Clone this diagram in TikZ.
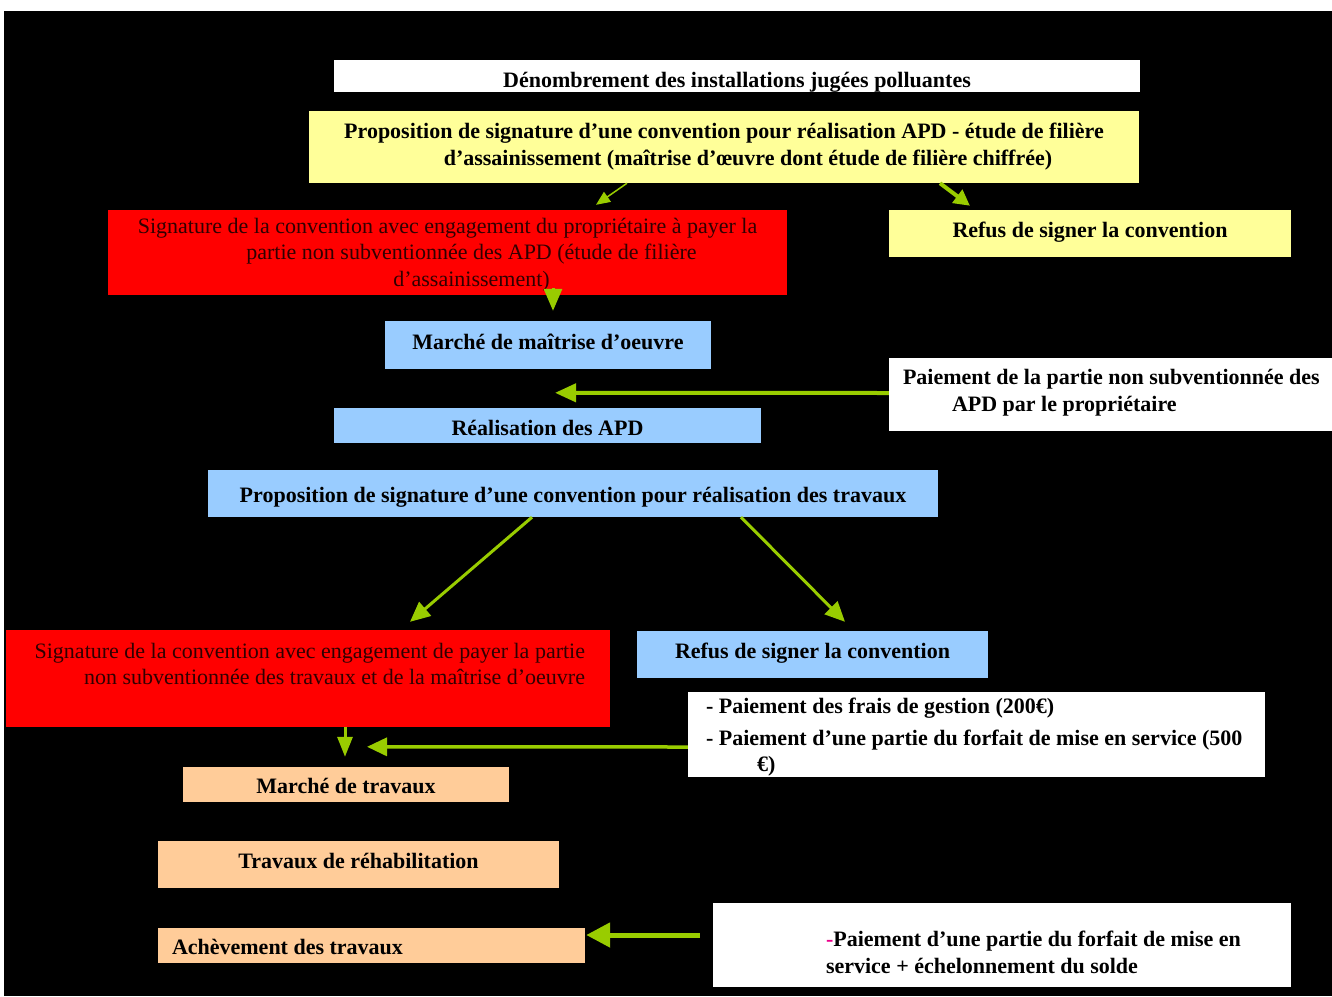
\documentclass[tikz,border=0pt]{standalone}
\usepackage{fontspec}
\setmainfont{Liberation Serif}
\usetikzlibrary{arrows.meta}
\definecolor{jaune}{HTML}{FFFF99}
\definecolor{rouge}{HTML}{FF0000}
\definecolor{bleu}{HTML}{99CCFF}
\definecolor{saumon}{HTML}{FFCC99}
\definecolor{vert}{HTML}{99CC00}
\definecolor{sombre}{HTML}{300000}
\tikzset{
  boite/.style n args={3}{minimum width=#1pt, minimum height=#2pt, inner sep=0pt, align=center,
    text height=#3pt, text depth=0pt, font=\fontsize{22}{26.5}\selectfont\bfseries},
  normal/.style={font=\fontsize{22}{26.5}\selectfont, text=sombre},
  fleche/.style n args={3}{vert, line width=#1pt, -{Triangle[length=#2pt, width=#3pt]}}
}
\begin{document}
\begin{tikzpicture}[x=1pt, y=-1pt]
            \useasboundingbox (0,0) rectangle (1332,996);
            \fill[white] (0,0) rectangle (1332,996);
            \fill[black] (4,11) rectangle (1332,996);
            \node[boite={806}{32}{22.6}, fill=white] (den) at (737,76) {Dénombrement des installations jugées polluantes};
            \node[boite={830}{72}{36}, fill=jaune] (prop1) at (724,147)
              {Proposition de signature d’une convention pour réalisation APD - étude de filière\\
               \hspace*{48pt}d’assainissement (maîtrise d’œuvre dont étude de filière chiffrée)};
            \node[boite={679}{85}{67}, fill=rouge, normal] (sig1) at (447.5,252.5)
              {Signature de la convention avec engagement du propriétaire à payer la\\
               \hspace*{48pt}partie non subventionnée des APD (étude de filière\\
               \hspace*{48pt}d’assainissement)};
            \node[boite={402}{47}{7}, fill=jaune] (refus1) at (1090,233.5) {Refus de signer la convention};
            \node[boite={326}{48}{8.6}, fill=bleu] (marche1) at (548,345) {Marché de maîtrise d’oeuvre};
            \node[boite={443}{73}{33.5}, fill=white] (pay1) at (1110.5,394.5)
              {\makebox[415pt][l]{Paiement de la partie non subventionnée des}\\
               \makebox[415pt][l]{\hspace*{49pt}APD par le propriétaire}};
            \node[boite={427}{35}{19}, fill=bleu] (realis) at (547.5,425.5) {Réalisation des APD};
            \node[boite={730}{47}{17}, fill=bleu] (prop2) at (573,493.5)
              {Proposition de signature d’une convention pour réalisation des travaux};
            \node[boite={604}{97}{12}, fill=rouge, normal] (sig2) at (308,678.5)
              {\makebox[554pt][r]{Signature de la convention avec engagement de payer la partie}\\
               \makebox[554pt][r]{non subventionnée des travaux et de la maîtrise d’oeuvre}};
            \node[boite={351}{47}{7}, fill=bleu] (refus2) at (812.5,654.5) {Refus de signer la convention};
            \node[boite={577}{85}{74}, fill=white] (pay2) at (976.5,734.5)
              {\makebox[541pt][l]{- Paiement des frais de gestion (200€)}\\[5.5pt]
               \makebox[541pt][l]{- Paiement d’une partie du forfait de mise en service (500}\\
               \makebox[541pt][l]{\hspace*{51pt}€)}};
            \node[boite={326}{35}{17}, fill=saumon] (marche2) at (346,784.5) {Marché de travaux};
            \node[boite={401}{47}{7}, fill=saumon] (travaux) at (358.5,864.5) {Travaux de réhabilitation};
            \node[boite={427}{35}{17}, fill=saumon] (achev) at (371.5,945.5) {\makebox[399pt][l]{Achèvement des travaux}};
            \node[boite={578}{84}{56.5}, fill=white] (pay3) at (1002,945)
              {\makebox[352pt][l]{\textcolor{magenta}{-}Paiement d’une partie du forfait de mise en}\\
               \makebox[352pt][l]{service + échelonnement du solde}};
            \draw[fleche={1.5}{14}{12}] ([xshift=-97pt]prop1.south) -- ([xshift=148.5pt, yshift=5pt]sig1.north);
            \draw[fleche={4}{16}{16}] ([xshift=216pt]prop1.south) -- ([xshift=-120pt, yshift=4pt]refus1.north);
            \draw[fleche={3}{22}{18}] ([xshift=105.5pt, yshift=7pt]sig1.south) -- ([xshift=5pt, yshift=10pt]marche1.north);
            \draw[fleche={4}{21}{18}] ([yshift=1.5pt]pay1.west) -- ([xshift=7.5pt, yshift=15pt]realis.north);
            \draw[fleche={3}{20}{18}] ([xshift=-41pt]prop2.south) -- ([xshift=102pt, yshift=8pt]sig2.north);
            \draw[fleche={3}{20}{18}] ([xshift=168pt]prop2.south) -- ([xshift=32.5pt, yshift=9pt]refus2.north);
            \draw[fleche={3}{20}{15}] ([xshift=37pt]sig2.south) -- ([xshift=-1pt, yshift=10pt]marche2.north);
            \draw[fleche={3.5}{20}{18}] ([yshift=-12.5pt]pay2.west) -- ([xshift=21pt, yshift=20pt]marche2.north);
            \draw[fleche={5}{24}{24}] ([xshift=-13pt, yshift=10pt]pay3.west) -- ([xshift=1pt, yshift=10.5pt]achev.east);
        \end{tikzpicture}
\end{document}
